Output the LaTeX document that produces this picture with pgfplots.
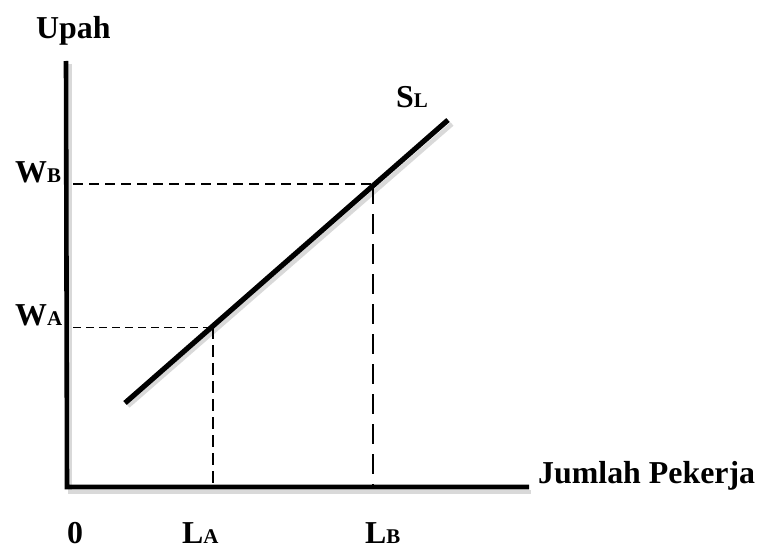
\documentclass[border=0pt]{standalone}
\usepackage{pgfplots}
\pgfplotsset{compat=1.18}
\usepackage{fontspec}
\setmainfont{Liberation Serif}
\newcommand{\bg}{\fontsize{32}{32}\selectfont\bfseries}
\newcommand{\sm}{\fontsize{21}{21}\selectfont\bfseries}
\begin{document}
\begin{tikzpicture}
\begin{axis}[
  scale only axis, width=757bp, height=548bp,
  xmin=0, xmax=757, ymin=0, ymax=548, y dir=reverse,
  hide axis, clip=false,
]
% bounding box
\draw[white, line width=0pt] (axis cs:0,0) rectangle (axis cs:757,548);
% shadows
\addplot[gray!30, line width=4pt, forget plot] coordinates {(70,64) (70,492) (531,492)};
\addplot[gray!30, line width=4.5pt, forget plot] coordinates {(128,406) (452,124)};
% dashed guides
\addplot[black, line width=2pt, dash pattern=on 10bp off 6bp] coordinates {(73,184) (373,184)};
\addplot[black, line width=1.4pt, dash pattern=on 20bp off 10bp] coordinates {(373,184) (373,486)};
\addplot[black, line width=1pt, dash pattern=on 8bp off 5bp] coordinates {(73,327) (213,327)};
\addplot[black, line width=2pt, dash pattern=on 12bp off 6bp] coordinates {(213,327) (213,486)};
% axes
\addplot[black, line width=4.6pt] coordinates {(66,61) (67,487) (529,487)};
% supply curve
\addplot[black, line width=5.2pt] coordinates {(125,403) (448,120)};
% labels
\node[inner sep=0pt, anchor=base west] at (axis cs:36,39) {\bg Upah};
\node[inner sep=0pt, anchor=base west] at (axis cs:538,483) {\bg Jumlah Pekerja};
\node[inner sep=0pt, anchor=base west] at (axis cs:15,182) {\bg W{\sm B}};
\node[inner sep=0pt, anchor=base west] at (axis cs:15,325) {\bg W{\sm A}};
\node[inner sep=0pt, anchor=base west] at (axis cs:396,107) {\bg S{\sm L}};
\node[inner sep=0pt, anchor=base west] at (axis cs:67,543) {\bg 0};
\node[inner sep=0pt, anchor=base west] at (axis cs:182,543) {\bg L{\sm A}};
\node[inner sep=0pt, anchor=base west] at (axis cs:365,543) {\bg L{\sm B}};
\end{axis}
\end{tikzpicture}
\end{document}
